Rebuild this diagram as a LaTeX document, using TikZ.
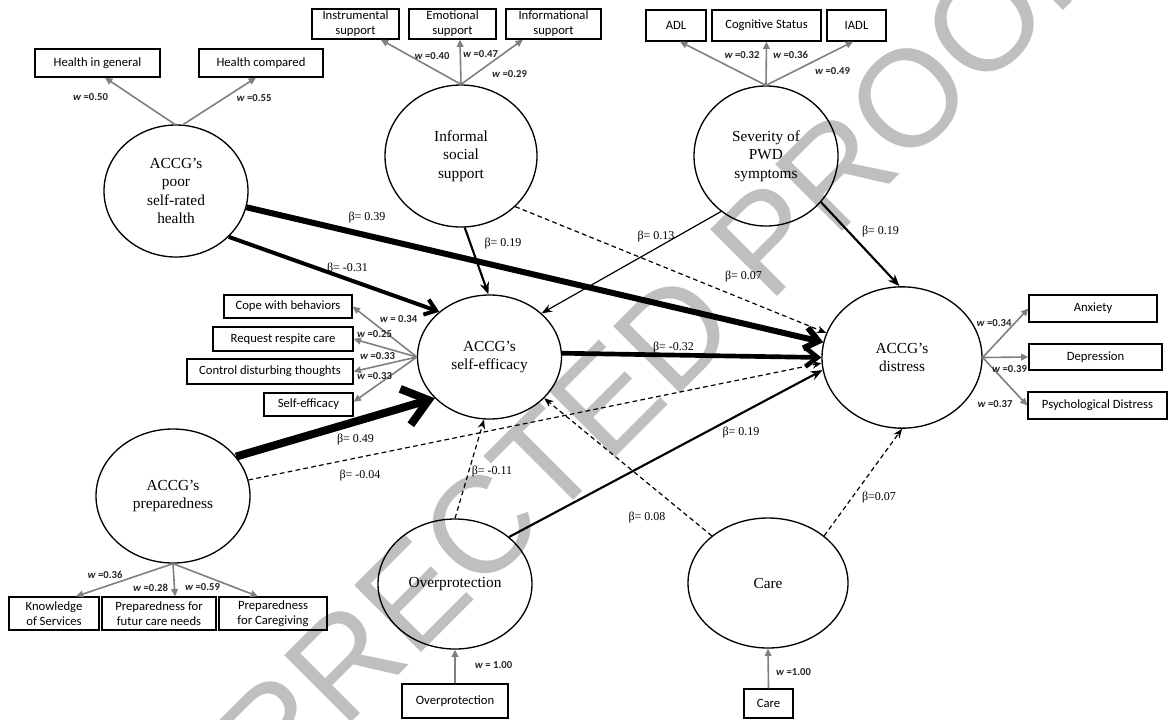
\documentclass[tikz,border=0pt]{standalone}
\usepackage{fontspec}
\setmainfont{Liberation Serif}
\newfontfamily\boxfam{Carlito}
\newfontfamily\wmfam{Liberation Sans}
\usetikzlibrary{shapes.geometric,arrows.meta}
\newcommand\latfont{\fontsize{11.5}{13.7}\selectfont}
\newcommand\boxfont{\boxfam\fontsize{9.5}{11.3}\selectfont}
\newcommand\wfont{\boxfam\bfseries\fontsize{8}{9}\selectfont}
\newcommand\betafont{\fontsize{9}{10}\selectfont}
\newcommand\wmfont{\wmfam\fontsize{103}{103}\selectfont}
\begin{document}
\begin{tikzpicture}[x=0.75pt,y=-0.75pt,
  lat/.style={ellipse, draw, line width=1pt, inner sep=0pt, align=center, font=\latfont},
  ind/.style={draw, line width=0.95pt, inner sep=0pt, align=center, font=\boxfont},
  wl/.style={font=\wfont, inner sep=0pt, text=black!85},
  bl/.style={font=\betafont, inner sep=0pt},
  ia/.style={draw=black!50, line width=1.2pt, -{Triangle[length=5.5pt,width=5pt]}},
  da/.style={draw=black, line width=0.9pt, dash pattern=on 3.5pt off 2.5pt, -{Stealth[length=7pt,width=5.5pt]}},
  thin/.style={draw=black, line width=0.9pt, -{Stealth[length=8pt,width=6pt]}},
  med/.style={draw=black, line width=1.6pt, -{Stealth[length=9pt,width=7pt]}},
]
\useasboundingbox[fill=white] (0,0) rectangle (1168,719);
% watermark
\node[rotate=45, text=black!25, font=\wmfont, inner sep=0pt] (wm) at (518,489) {UNCORRECTED PROOF};

% latent variables
\node[lat, minimum width=108pt, minimum height=99pt] (h) at (176,191) {ACCG’s\\poor\\self-rated\\health};
\node[lat, minimum width=114pt, minimum height=106.5pt] (inf) at (461,156) {Informal\\social\\support};
\node[lat, minimum width=108pt, minimum height=105pt] (sev) at (766,156) {Severity of\\PWD\\symptoms};
\node[lat, minimum width=108pt, minimum height=93pt] (eff) at (489.5,357) {ACCG’s\\self-efficacy};
\node[lat, minimum width=120pt, minimum height=106pt] (dis) at (902,357.5) {ACCG’s\\distress};
\node[lat, minimum width=115.5pt, minimum height=100.5pt] (prep) at (173,496) {ACCG’s\\preparedness};
\node[lat, minimum width=115.5pt, minimum height=97.5pt] (ovp) at (455,584) {Overprotection};
\node[lat, minimum width=120pt, minimum height=97.5pt] (care) at (768,583) {Care};

% indicators
\node[ind, minimum width=93.75pt, minimum height=21pt] (hg) at (97.5,63) {Health in general};
\node[ind, minimum width=93pt, minimum height=21pt] (hc) at (261,63) {Health compared};
\node[ind, minimum width=65.25pt, minimum height=22.5pt] (ins) at (355.5,24) {Instrumental\\support};
\node[ind, minimum width=65.25pt, minimum height=22.5pt] (emo) at (452.5,24) {Emotional\\support};
\node[ind, minimum width=71.25pt, minimum height=22.5pt] (infm) at (553.5,24) {Informational\\support};
\node[ind, minimum width=45pt, minimum height=23.25pt] (adl) at (676,25.5) {ADL};
\node[ind, minimum width=81.75pt, minimum height=23.25pt] (cog) at (766.5,25.5) {Cognitive Status};
\node[ind, minimum width=44.25pt, minimum height=23.25pt] (iadl) at (856.5,25.5) {IADL};
\node[ind, minimum width=96pt, minimum height=17.25pt] (cope) at (288,306.5) {Cope with behaviors};
\node[ind, minimum width=105pt, minimum height=18pt] (resp) at (283,339) {Request respite care};
\node[ind, minimum width=124.5pt, minimum height=18.75pt] (ctrl) at (270,371.5) {Control disturbing thoughts};
\node[ind, minimum width=66.75pt, minimum height=17.25pt] (seff) at (308.5,404.5) {Self-efficacy};
\node[ind, minimum width=96pt, minimum height=20.25pt] (anx) at (1093,308.5) {Anxiety};
\node[ind, minimum width=99.75pt, minimum height=19.5pt] (dep) at (1095.5,357) {Depression};
\node[ind, minimum width=104.25pt, minimum height=20.25pt] (psy) at (1097.5,405.5) {Psychological Distress};
\node[ind, minimum width=67.5pt, minimum height=24.75pt] (kno) at (54,613.5) {Knowledge\\of Services};
\node[ind, minimum width=85.5pt, minimum height=24.75pt] (pfc) at (159,613.5) {Preparedness for\\futur care needs};
\node[ind, minimum width=81pt, minimum height=24.75pt] (pcg) at (273,613.5) {Preparedness\\for Caregiving};
\node[ind, minimum width=79.5pt, minimum height=25.5pt] (ovb) at (455,701) {Overprotection};
\node[ind, minimum width=36.75pt, minimum height=21.75pt] (cab) at (768.5,703.5) {Care};

% indicator arrows
\draw[ia] (h.91) -- ([xshift=5.6pt]hg.south);
\draw[ia] (h.84) -- ([xshift=-3.75pt]hc.south);
\draw[ia] (inf.90) -- ([xshift=19pt]ins.south);
\draw[ia] (inf.90) -- ([xshift=5.6pt]emo.south);
\draw[ia] (inf.90) -- ([xshift=-23pt]infm.south);
\draw[ia] (sev.90) -- ([xshift=3pt]adl.south);
\draw[ia] (sev.90) -- (cog.south);
\draw[ia] (sev.90) -- ([xshift=-2.6pt]iadl.south);
\draw[ia] (eff.west) -- (cope.east);
\draw[ia] (eff.west) -- (resp.east);
\draw[ia] (eff.west) -- (ctrl.east);
\draw[ia] (eff.west) -- ([yshift=2pt]seff.east);
\draw[ia] (dis.east) -- (anx.west);
\draw[ia] (dis.east) -- (dep.west);
\draw[ia] (dis.east) -- (psy.west);
\draw[ia] (prep.south) -- ([xshift=16.5pt]kno.north);
\draw[ia] (prep.south) -- ([xshift=12pt]pfc.north);
\draw[ia] (prep.south) -- ([xshift=-11.25pt]pcg.north);
\draw[ia] (ovb.north) -- (ovp.south);
\draw[ia] (cab.north) -- (care.south);

% weights
\node[wl] (w1) at (90.5,97.5) {\textit{w} =0.50};
\node[wl] (w2) at (254,98) {\textit{w} =0.55};
\node[wl] (w3) at (432,56) {\textit{w} =0.40};
\node[wl] (w4) at (480.5,54) {\textit{w} =0.47};
\node[wl] (w5) at (509.5,74) {\textit{w} =0.29};
\node[wl] (w6) at (742,55) {\textit{w} =0.32};
\node[wl] (w7) at (790.5,54.5) {\textit{w} =0.36};
\node[wl] (w8) at (832.5,71) {\textit{w} =0.49};
\node[wl] (w9) at (398.5,319.5) {\textit{w} = 0.34};
\node[wl] (w10) at (374.5,334) {\textit{w} =0.25};
\node[wl] (w11) at (377.5,356.5) {\textit{w} =0.33};
\node[wl] (w12) at (374.5,376.5) {\textit{w} =0.33};
\node[wl] (w13) at (994,323.5) {\textit{w} =0.34};
\node[wl] (w14) at (1009.5,369.5) {\textit{w} =0.39};
\node[wl] (w15) at (995,404.5) {\textit{w} =0.37};
\node[wl] (w16) at (105,574.5) {\textit{w} =0.36};
\node[wl] (w17) at (150.5,587.5) {\textit{w} =0.28};
\node[wl] (w18) at (202.5,587.5) {\textit{w} =0.59};
\node[wl] (w19) at (493.5,665) {\textit{w} = 1.00};
\node[wl] (w20) at (793.5,672) {\textit{w} =1.00};

% structural paths
\draw[line width=4.5pt, -{Straight Barb[length=10pt,width=16pt]}] (h.-13) -- (dis.169);
\draw[line width=3pt, -{Straight Barb[length=8pt,width=12pt]}] (h.-41.5) -- (eff.138);
\draw[med] (inf.-87) -- (eff.91);
\draw[da] (inf.-43) -- (dis.162);
\draw[thin] (sev.-129) -- (eff.40);
\draw[med] (sev.-40) -- (dis.92);
\draw[line width=3.5pt, -{Straight Barb[length=9pt,width=14pt]}] (eff.3) -- (dis.180);
\draw[line width=6pt, -{Straight Barb[length=18pt,width=28pt]}] (prep.32) -- (eff.-143);
\draw[da] (prep.12.6) -- (dis.-176);
\draw[da] (ovp.90) -- (eff.-95);
\draw[med] (ovp.41.6) -- (dis.-171);
\draw[da] (care.140.6) -- (eff.-37);
\draw[da] (care.40) -- (dis.-90);

% path coefficients
\node[bl] (b1) at (367,217.5) {β= 0.39};
\node[bl] (b2) at (347.5,268.5) {β= -0.31};
\node[bl] (b3) at (503,244) {β= 0.19};
\node[bl] (b4) at (743.5,277) {β= 0.07};
\node[bl] (b5) at (656,237) {β= 0.13};
\node[bl] (b6) at (880.5,232) {β= 0.19};
\node[bl] (b7) at (673.5,348) {β= -0.32};
\node[bl] (b8) at (355.5,440) {β= 0.49};
\node[bl] (b9) at (360,476) {β= -0.04};
\node[bl] (b10) at (492,472) {β= -0.11};
\node[bl] (b11) at (741,433) {β= 0.19};
\node[bl] (b12) at (647,518) {β= 0.08};
\node[bl] (b13) at (879,498) {β=0.07};
\end{tikzpicture}
\end{document}
